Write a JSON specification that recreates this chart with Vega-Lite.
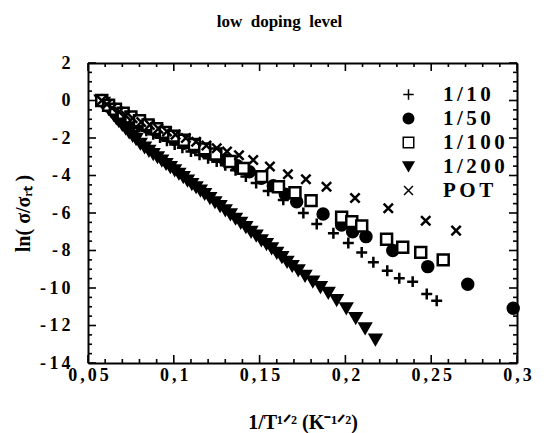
{
  "$schema": "https://vega.github.io/schema/vega-lite/v6.json",
  "width": 429,
  "height": 300,
  "autosize": {"type": "none"},
  "padding": {"left": 88, "top": 63, "right": 31, "bottom": 70},
  "background": "white",
  "title": {
    "text": "low\u00a0 doping\u00a0 level",
    "font": "Liberation Serif",
    "fontWeight": "bold",
    "fontSize": 17,
    "color": "black",
    "frame": "group",
    "offset": 23,
    "dx": -23
  },
  "config": {
    "view": {"stroke": null},
    "axis": {
      "grid": false,
      "domainColor": "black",
      "domainWidth": 2,
      "labelFont": "Liberation Serif",
      "labelFontWeight": "bold",
      "labelFontSize": 18,
      "labelColor": "black",
      "titleFont": "Liberation Serif",
      "titleFontWeight": "bold",
      "titleFontSize": 20,
      "titleColor": "black",
      "labelOverlap": false,
      "labelFlush": false
    }
  },
  "datasets": {
    "xmaj": [{"v": 0.05}, {"v": 0.1}, {"v": 0.15}, {"v": 0.2}, {"v": 0.25}, {"v": 0.3}],
    "xmin": [{"v": 0.06}, {"v": 0.07}, {"v": 0.08}, {"v": 0.09}, {"v": 0.11}, {"v": 0.12}, {"v": 0.13}, {"v": 0.14}, {"v": 0.16}, {"v": 0.17}, {"v": 0.18}, {"v": 0.19}, {"v": 0.21}, {"v": 0.22}, {"v": 0.23}, {"v": 0.24}, {"v": 0.26}, {"v": 0.27}, {"v": 0.28}, {"v": 0.29}],
    "ymaj": [{"v": -14}, {"v": -12}, {"v": -10}, {"v": -8}, {"v": -6}, {"v": -4}, {"v": -2}, {"v": 0}, {"v": 2}],
    "ymin": [{"v": -13.5}, {"v": -13}, {"v": -12.5}, {"v": -11.5}, {"v": -11}, {"v": -10.5}, {"v": -9.5}, {"v": -9}, {"v": -8.5}, {"v": -7.5}, {"v": -7}, {"v": -6.5}, {"v": -5.5}, {"v": -5}, {"v": -4.5}, {"v": -3.5}, {"v": -3}, {"v": -2.5}, {"v": -1.5}, {"v": -1}, {"v": -0.5}, {"v": 0.5}, {"v": 1}, {"v": 1.5}]
  },
  "data": {
    "values": [
      {"s": "1/200", "x": 0.0575, "y": 0},
      {"s": "1/200", "x": 0.059, "y": -0.12},
      {"s": "1/200", "x": 0.0605, "y": -0.28},
      {"s": "1/200", "x": 0.062, "y": -0.45},
      {"s": "1/200", "x": 0.0635, "y": -0.6},
      {"s": "1/200", "x": 0.065, "y": -0.78},
      {"s": "1/200", "x": 0.0665, "y": -0.95},
      {"s": "1/200", "x": 0.068, "y": -1.1},
      {"s": "1/200", "x": 0.07, "y": -1.3},
      {"s": "1/200", "x": 0.072, "y": -1.5},
      {"s": "1/200", "x": 0.074, "y": -1.7},
      {"s": "1/200", "x": 0.076, "y": -1.88},
      {"s": "1/200", "x": 0.078, "y": -2.05},
      {"s": "1/200", "x": 0.0805, "y": -2.3},
      {"s": "1/200", "x": 0.083, "y": -2.5},
      {"s": "1/200", "x": 0.0855, "y": -2.68},
      {"s": "1/200", "x": 0.088, "y": -2.85},
      {"s": "1/200", "x": 0.0905, "y": -3.02},
      {"s": "1/200", "x": 0.093, "y": -3.2},
      {"s": "1/200", "x": 0.0955, "y": -3.38},
      {"s": "1/200", "x": 0.098, "y": -3.55},
      {"s": "1/200", "x": 0.1005, "y": -3.72},
      {"s": "1/200", "x": 0.103, "y": -3.9},
      {"s": "1/200", "x": 0.1055, "y": -4.08},
      {"s": "1/200", "x": 0.108, "y": -4.27},
      {"s": "1/200", "x": 0.1105, "y": -4.45},
      {"s": "1/200", "x": 0.113, "y": -4.62},
      {"s": "1/200", "x": 0.1155, "y": -4.8},
      {"s": "1/200", "x": 0.118, "y": -4.98},
      {"s": "1/200", "x": 0.121, "y": -5.2},
      {"s": "1/200", "x": 0.124, "y": -5.42},
      {"s": "1/200", "x": 0.127, "y": -5.63},
      {"s": "1/200", "x": 0.13, "y": -5.85},
      {"s": "1/200", "x": 0.133, "y": -6.07},
      {"s": "1/200", "x": 0.136, "y": -6.3},
      {"s": "1/200", "x": 0.139, "y": -6.52},
      {"s": "1/200", "x": 0.142, "y": -6.75},
      {"s": "1/200", "x": 0.145, "y": -7.0},
      {"s": "1/200", "x": 0.148, "y": -7.2},
      {"s": "1/200", "x": 0.151, "y": -7.45},
      {"s": "1/200", "x": 0.154, "y": -7.65},
      {"s": "1/200", "x": 0.157, "y": -7.88},
      {"s": "1/200", "x": 0.16, "y": -8.12},
      {"s": "1/200", "x": 0.163, "y": -8.35},
      {"s": "1/200", "x": 0.166, "y": -8.6},
      {"s": "1/200", "x": 0.169, "y": -8.82},
      {"s": "1/200", "x": 0.1725, "y": -9.05},
      {"s": "1/200", "x": 0.1765, "y": -9.35},
      {"s": "1/200", "x": 0.181, "y": -9.65},
      {"s": "1/200", "x": 0.1855, "y": -9.95},
      {"s": "1/200", "x": 0.19, "y": -10.25},
      {"s": "1/200", "x": 0.1949, "y": -10.64},
      {"s": "1/200", "x": 0.2005, "y": -11.08},
      {"s": "1/200", "x": 0.206, "y": -11.6},
      {"s": "1/200", "x": 0.2115, "y": -12.15},
      {"s": "1/200", "x": 0.2175, "y": -12.75},

      {"s": "1/10", "x": 0.058, "y": 0},
      {"s": "1/10", "x": 0.0605, "y": -0.2},
      {"s": "1/10", "x": 0.063, "y": -0.4},
      {"s": "1/10", "x": 0.066, "y": -0.62},
      {"s": "1/10", "x": 0.069, "y": -0.82},
      {"s": "1/10", "x": 0.0725, "y": -1.02},
      {"s": "1/10", "x": 0.076, "y": -1.22},
      {"s": "1/10", "x": 0.08, "y": -1.42},
      {"s": "1/10", "x": 0.084, "y": -1.62},
      {"s": "1/10", "x": 0.088, "y": -1.8},
      {"s": "1/10", "x": 0.092, "y": -1.98},
      {"s": "1/10", "x": 0.096, "y": -2.15},
      {"s": "1/10", "x": 0.1005, "y": -2.35},
      {"s": "1/10", "x": 0.105, "y": -2.52},
      {"s": "1/10", "x": 0.11, "y": -2.72},
      {"s": "1/10", "x": 0.115, "y": -2.9},
      {"s": "1/10", "x": 0.12, "y": -3.08},
      {"s": "1/10", "x": 0.125, "y": -3.26},
      {"s": "1/10", "x": 0.13, "y": -3.45},
      {"s": "1/10", "x": 0.136, "y": -3.72},
      {"s": "1/10", "x": 0.142, "y": -4.05},
      {"s": "1/10", "x": 0.148, "y": -4.4},
      {"s": "1/10", "x": 0.155, "y": -4.82},
      {"s": "1/10", "x": 0.1638, "y": -5.3},
      {"s": "1/10", "x": 0.1755, "y": -6.0},
      {"s": "1/10", "x": 0.1833, "y": -6.59},
      {"s": "1/10", "x": 0.193, "y": -7.08},
      {"s": "1/10", "x": 0.2017, "y": -7.6},
      {"s": "1/10", "x": 0.2095, "y": -8.1},
      {"s": "1/10", "x": 0.2163, "y": -8.63},
      {"s": "1/10", "x": 0.2244, "y": -9.08},
      {"s": "1/10", "x": 0.2314, "y": -9.48},
      {"s": "1/10", "x": 0.2392, "y": -9.66},
      {"s": "1/10", "x": 0.2474, "y": -10.32},
      {"s": "1/10", "x": 0.2532, "y": -10.68},

      {"s": "1/50", "x": 0.058, "y": 0},
      {"s": "1/50", "x": 0.061, "y": -0.22},
      {"s": "1/50", "x": 0.0645, "y": -0.45},
      {"s": "1/50", "x": 0.068, "y": -0.65},
      {"s": "1/50", "x": 0.072, "y": -0.85},
      {"s": "1/50", "x": 0.076, "y": -1.05},
      {"s": "1/50", "x": 0.08, "y": -1.25},
      {"s": "1/50", "x": 0.085, "y": -1.45},
      {"s": "1/50", "x": 0.09, "y": -1.65},
      {"s": "1/50", "x": 0.095, "y": -1.85},
      {"s": "1/50", "x": 0.1, "y": -2.05},
      {"s": "1/50", "x": 0.106, "y": -2.28},
      {"s": "1/50", "x": 0.112, "y": -2.5},
      {"s": "1/50", "x": 0.118, "y": -2.72},
      {"s": "1/50", "x": 0.124, "y": -2.95},
      {"s": "1/50", "x": 0.13, "y": -3.18},
      {"s": "1/50", "x": 0.137, "y": -3.48},
      {"s": "1/50", "x": 0.144, "y": -3.8},
      {"s": "1/50", "x": 0.151, "y": -4.15},
      {"s": "1/50", "x": 0.158, "y": -4.55},
      {"s": "1/50", "x": 0.165, "y": -5.0},
      {"s": "1/50", "x": 0.1716, "y": -5.4},
      {"s": "1/50", "x": 0.187, "y": -6.05},
      {"s": "1/50", "x": 0.1978, "y": -6.64},
      {"s": "1/50", "x": 0.2042, "y": -7.0},
      {"s": "1/50", "x": 0.212, "y": -7.26},
      {"s": "1/50", "x": 0.2276, "y": -8.0},
      {"s": "1/50", "x": 0.248, "y": -8.86},
      {"s": "1/50", "x": 0.2713, "y": -9.8},
      {"s": "1/50", "x": 0.2978, "y": -11.08},

      {"s": "1/100", "x": 0.058, "y": 0},
      {"s": "1/100", "x": 0.062, "y": -0.25},
      {"s": "1/100", "x": 0.066, "y": -0.47},
      {"s": "1/100", "x": 0.0705, "y": -0.68},
      {"s": "1/100", "x": 0.075, "y": -0.88},
      {"s": "1/100", "x": 0.08, "y": -1.08},
      {"s": "1/100", "x": 0.085, "y": -1.3},
      {"s": "1/100", "x": 0.09, "y": -1.5},
      {"s": "1/100", "x": 0.095, "y": -1.7},
      {"s": "1/100", "x": 0.1, "y": -1.9},
      {"s": "1/100", "x": 0.106, "y": -2.12},
      {"s": "1/100", "x": 0.112, "y": -2.35},
      {"s": "1/100", "x": 0.118, "y": -2.58},
      {"s": "1/100", "x": 0.1245, "y": -2.85},
      {"s": "1/100", "x": 0.1328, "y": -3.25},
      {"s": "1/100", "x": 0.1405, "y": -3.62},
      {"s": "1/100", "x": 0.1512, "y": -4.06},
      {"s": "1/100", "x": 0.161, "y": -4.6},
      {"s": "1/100", "x": 0.1706, "y": -4.92},
      {"s": "1/100", "x": 0.18, "y": -5.34},
      {"s": "1/100", "x": 0.1978, "y": -6.23},
      {"s": "1/100", "x": 0.2037, "y": -6.46},
      {"s": "1/100", "x": 0.2095, "y": -6.69},
      {"s": "1/100", "x": 0.224, "y": -7.4},
      {"s": "1/100", "x": 0.2334, "y": -7.83},
      {"s": "1/100", "x": 0.2439, "y": -8.1},
      {"s": "1/100", "x": 0.257, "y": -8.5},

      {"s": "POT", "x": 0.058, "y": 0},
      {"s": "POT", "x": 0.061, "y": -0.2},
      {"s": "POT", "x": 0.064, "y": -0.4},
      {"s": "POT", "x": 0.068, "y": -0.6},
      {"s": "POT", "x": 0.072, "y": -0.8},
      {"s": "POT", "x": 0.076, "y": -0.95},
      {"s": "POT", "x": 0.081, "y": -1.15},
      {"s": "POT", "x": 0.086, "y": -1.3},
      {"s": "POT", "x": 0.091, "y": -1.5},
      {"s": "POT", "x": 0.096, "y": -1.65},
      {"s": "POT", "x": 0.101, "y": -1.82},
      {"s": "POT", "x": 0.107, "y": -2.0},
      {"s": "POT", "x": 0.113, "y": -2.2},
      {"s": "POT", "x": 0.119, "y": -2.4},
      {"s": "POT", "x": 0.125, "y": -2.55},
      {"s": "POT", "x": 0.131, "y": -2.72},
      {"s": "POT", "x": 0.138, "y": -2.92},
      {"s": "POT", "x": 0.1463, "y": -3.17},
      {"s": "POT", "x": 0.156, "y": -3.52},
      {"s": "POT", "x": 0.1665, "y": -3.93},
      {"s": "POT", "x": 0.177, "y": -4.2},
      {"s": "POT", "x": 0.189, "y": -4.6},
      {"s": "POT", "x": 0.2056, "y": -5.2},
      {"s": "POT", "x": 0.225, "y": -5.75},
      {"s": "POT", "x": 0.2468, "y": -6.41},
      {"s": "POT", "x": 0.2645, "y": -6.94}
    ]
  },
  "layer": [
    {
      "mark": {"type": "point", "opacity": 0},
      "encoding": {
        "x": {"field": "x", "type": "quantitative", "axis": {"orient": "top", "title": null, "labels": false, "ticks": false, "domain": true}},
        "y": {"field": "y", "type": "quantitative", "axis": {"orient": "right", "title": null, "labels": false, "ticks": false, "domain": true}}
      }
    },
    {
      "data": {"name": "xmaj"},
      "mark": {"type": "rule", "color": "black", "strokeWidth": 1.6},
      "encoding": {
        "x": {"field": "v", "type": "quantitative", "axis": null},
        "y": {"datum": -14, "type": "quantitative", "axis": null},
        "y2": {"datum": -13.5733}
      }
    },
    {
      "data": {"name": "xmaj"},
      "mark": {"type": "rule", "color": "black", "strokeWidth": 1.6},
      "encoding": {
        "x": {"field": "v", "type": "quantitative", "axis": null},
        "y": {"datum": 2, "type": "quantitative", "axis": null},
        "y2": {"datum": 1.5733}
      }
    },
    {
      "data": {"name": "xmin"},
      "mark": {"type": "rule", "color": "black", "strokeWidth": 1.6},
      "encoding": {
        "x": {"field": "v", "type": "quantitative", "axis": null},
        "y": {"datum": -14, "type": "quantitative", "axis": null},
        "y2": {"datum": -13.7867}
      }
    },
    {
      "data": {"name": "xmin"},
      "mark": {"type": "rule", "color": "black", "strokeWidth": 1.6},
      "encoding": {
        "x": {"field": "v", "type": "quantitative", "axis": null},
        "y": {"datum": 2, "type": "quantitative", "axis": null},
        "y2": {"datum": 1.7867}
      }
    },
    {
      "data": {"name": "ymaj"},
      "mark": {"type": "rule", "color": "black", "strokeWidth": 1.6},
      "encoding": {
        "y": {"field": "v", "type": "quantitative", "axis": null},
        "x": {"datum": 0.05, "type": "quantitative", "axis": null},
        "x2": {"datum": 0.05466}
      }
    },
    {
      "data": {"name": "ymaj"},
      "mark": {"type": "rule", "color": "black", "strokeWidth": 1.6},
      "encoding": {
        "y": {"field": "v", "type": "quantitative", "axis": null},
        "x": {"datum": 0.3, "type": "quantitative", "axis": null},
        "x2": {"datum": 0.29534}
      }
    },
    {
      "data": {"name": "ymin"},
      "mark": {"type": "rule", "color": "black", "strokeWidth": 1.6},
      "encoding": {
        "y": {"field": "v", "type": "quantitative", "axis": null},
        "x": {"datum": 0.05, "type": "quantitative", "axis": null},
        "x2": {"datum": 0.05233}
      }
    },
    {
      "data": {"name": "ymin"},
      "mark": {"type": "rule", "color": "black", "strokeWidth": 1.6},
      "encoding": {
        "y": {"field": "v", "type": "quantitative", "axis": null},
        "x": {"datum": 0.3, "type": "quantitative", "axis": null},
        "x2": {"datum": 0.29767}
      }
    },
    {
      "mark": {"type": "point", "stroke": "black", "strokeWidth": 2.5, "size": 120, "opacity": 1},
      "encoding": {
        "x": {
          "field": "x",
          "type": "quantitative",
          "scale": {"domain": [0.05, 0.3], "nice": false, "zero": false},
          "axis": {
            "orient": "bottom",
            "title": "1/T¹ᐟ² (K⁻¹ᐟ²)",
            "titlePadding": 28,
            "values": [0.05, 0.1, 0.15, 0.2, 0.25, 0.3],
            "ticks": false,
            "labelPadding": 3,
            "labelExpr": "join(split(replace(format(datum.value, '.2~f'), '.', ','), ''), '\u2006')"
          }
        },
        "y": {
          "field": "y",
          "type": "quantitative",
          "scale": {"domain": [-14, 2], "nice": false, "zero": false},
          "axis": {
            "orient": "left",
            "title": "ln( σ/σᵣₜ )",
            "titlePadding": 6,
            "values": [-14, -12, -10, -8, -6, -4, -2, 0, 2],
            "ticks": false,
            "labelPadding": 18,
            "labelExpr": "datum.value < 0 ? '-\u2009' + join(split('' + abs(datum.value), ''), '\u2006') : '' + datum.value"
          }
        },
        "shape": {
          "field": "s",
          "type": "nominal",
          "scale": {
            "domain": ["1/10", "1/50", "1/100", "1/200", "POT"],
            "range": ["M-1,0H1M0,-1V1", "circle", "square", "triangle-down", "M-0.85,-0.85L0.85,0.85M-0.85,0.85L0.85,-0.85"]
          },
          "legend": {
            "title": null,
            "orient": "none",
            "legendX": 310,
            "legendY": 21,
            "labelFont": "Liberation Serif",
            "labelFontWeight": "bold",
            "labelFontSize": 21,
            "labelColor": "black",
            "labelExpr": "join(split(datum.label, ''), '\u2006')",
            "symbolSize": 110,
            "rowPadding": 2,
            "labelOffset": 24,
            "encode": {"symbols": {"update": {"stroke": {"value": "black"}, "strokeWidth": {"value": 2.5}}}}
          }
        },
        "fill": {
          "field": "s",
          "type": "nominal",
          "scale": {
            "domain": ["1/10", "1/50", "1/100", "1/200", "POT"],
            "range": ["black", "black", "white", "black", "black"]
          },
          "legend": {
            "title": null,
            "orient": "none",
            "legendX": 310,
            "legendY": 21,
            "labelFont": "Liberation Serif",
            "labelFontWeight": "bold",
            "labelFontSize": 21,
            "labelColor": "black",
            "labelExpr": "join(split(datum.label, ''), '\u2006')",
            "symbolSize": 110,
            "rowPadding": 2,
            "labelOffset": 24,
            "encode": {"symbols": {"update": {"stroke": {"value": "black"}, "strokeWidth": {"value": 2.5}}}}
          }
        }
      }
    }
  ],
  "resolve": {"axis": {"x": "independent", "y": "independent"}}
}
